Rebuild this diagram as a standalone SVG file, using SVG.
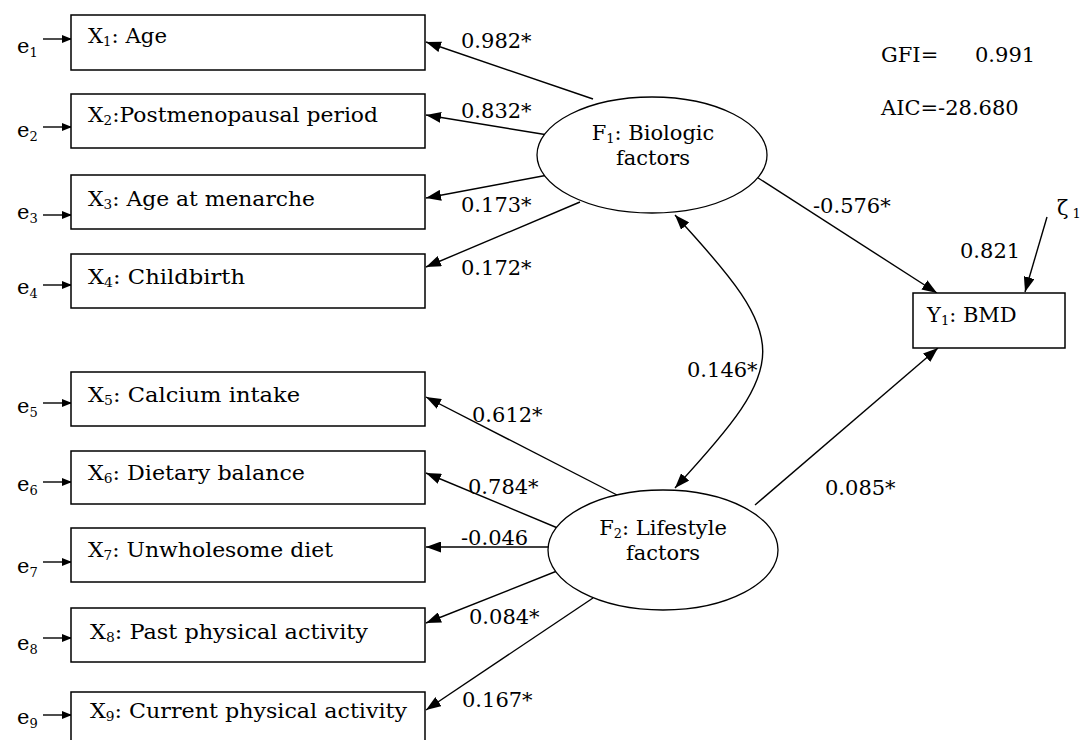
<svg xmlns="http://www.w3.org/2000/svg" width="1082" height="740" viewBox="0 0 1082 740">
<defs>
<style>
.t{font-family:"DejaVu Serif","Liberation Serif",serif;font-size:21px;fill:#000}
.s{font-size:13px}
.box{fill:#fff;stroke:#000;stroke-width:1.5}
.ell{fill:#fff;stroke:#000;stroke-width:1.3}
.ln{fill:none;stroke:#000;stroke-width:1.4}
.big{marker-end:url(#ah)}
.sm{marker-end:url(#ahs)}
</style>
<marker id="ah" viewBox="0 0 15 11" refX="15" refY="5.5" markerWidth="15" markerHeight="11" markerUnits="userSpaceOnUse" orient="auto-start-reverse"><path d="M0,0 L15,5.5 L0,11 z" fill="#000"/></marker>
<marker id="ahs" viewBox="0 0 10 8" refX="10" refY="4" markerWidth="10" markerHeight="8" markerUnits="userSpaceOnUse" orient="auto"><path d="M0,0 L10,4 L0,8 z" fill="#000"/></marker>
</defs>
<rect width="1082" height="740" fill="#fff"/>

<g id="connectors">
<path class="ln big" d="M593,99 L426,42"/>
<path class="ln big" d="M548,135 L426,115"/>
<path class="ln big" d="M548,175 L426,198"/>
<path class="ln big" d="M580,202 L426,267"/>
<path class="ln big" d="M752,174 L937,293"/>
<path class="ln big" d="M755,505 L938,348"/>
<path class="ln big" d="M617,495 L426,397"/>
<path class="ln big" d="M560,529 L426,473"/>
<path class="ln big" d="M549,547 L426,547"/>
<path class="ln big" d="M562,569 L426,623"/>
<path class="ln big" d="M593,598 L426,710"/>
<path class="ln big" d="M1047,217 L1025,292"/>
<path class="ln big" style="marker-start:url(#ah)" d="M675,215 C792,342 792,361 675,488"/>
<path class="ln sm" d="M43,39 L72,39"/>
<path class="ln sm" d="M43,127 L72,127"/>
<path class="ln sm" d="M43,215 L72,215"/>
<path class="ln sm" d="M43,285 L72,285"/>
<path class="ln sm" d="M43,403 L72,403"/>
<path class="ln sm" d="M43,482 L72,482"/>
<path class="ln sm" d="M43,562 L72,562"/>
<path class="ln sm" d="M43,638 L72,638"/>
<path class="ln sm" d="M43,715 L72,715"/>
</g>

<g id="x1"><rect class="box" x="71" y="15" width="354" height="55"/><text class="t" x="88" y="43" textLength="79" lengthAdjust="spacingAndGlyphs">X<tspan class="s" dy="3">1</tspan><tspan dy="-3">: Age</tspan></text></g>
<g id="x2"><rect class="box" x="71" y="94" width="354" height="54"/><text class="t" x="88" y="122" textLength="290" lengthAdjust="spacingAndGlyphs">X<tspan class="s" dy="3">2</tspan><tspan dy="-3">:Postmenopausal period</tspan></text></g>
<g id="x3"><rect class="box" x="71" y="175" width="354" height="54"/><text class="t" x="88" y="206" textLength="227" lengthAdjust="spacingAndGlyphs">X<tspan class="s" dy="3">3</tspan><tspan dy="-3">: Age at menarche</tspan></text></g>
<g id="x4"><rect class="box" x="71" y="254" width="354" height="54"/><text class="t" x="88" y="284" textLength="157" lengthAdjust="spacingAndGlyphs">X<tspan class="s" dy="3">4</tspan><tspan dy="-3">: Childbirth</tspan></text></g>
<g id="x5"><rect class="box" x="71" y="372" width="354" height="54"/><text class="t" x="88" y="402" textLength="212" lengthAdjust="spacingAndGlyphs">X<tspan class="s" dy="3">5</tspan><tspan dy="-3">: Calcium intake</tspan></text></g>
<g id="x6"><rect class="box" x="71" y="451" width="354" height="53"/><text class="t" x="88" y="480" textLength="217" lengthAdjust="spacingAndGlyphs">X<tspan class="s" dy="3">6</tspan><tspan dy="-3">: Dietary balance</tspan></text></g>
<g id="x7"><rect class="box" x="71" y="528" width="354" height="54"/><text class="t" x="88" y="557" textLength="245" lengthAdjust="spacingAndGlyphs">X<tspan class="s" dy="3">7</tspan><tspan dy="-3">: Unwholesome diet</tspan></text></g>
<g id="x8"><rect class="box" x="71" y="608" width="354" height="54"/><text class="t" x="90" y="639" textLength="278" lengthAdjust="spacingAndGlyphs">X<tspan class="s" dy="3">8</tspan><tspan dy="-3">: Past physical activity</tspan></text></g>
<g id="x9"><rect class="box" x="71" y="692" width="354" height="56"/><text class="t" x="90" y="718" textLength="317" lengthAdjust="spacingAndGlyphs">X<tspan class="s" dy="3">9</tspan><tspan dy="-3">: Current physical activity</tspan></text></g>

<g id="e-labels">
<text class="t" x="17" y="53">e<tspan class="s" dy="4">1</tspan></text>
<text class="t" x="17" y="137">e<tspan class="s" dy="4">2</tspan></text>
<text class="t" x="17" y="219">e<tspan class="s" dy="4">3</tspan></text>
<text class="t" x="17" y="294">e<tspan class="s" dy="4">4</tspan></text>
<text class="t" x="17" y="413">e<tspan class="s" dy="4">5</tspan></text>
<text class="t" x="17" y="491">e<tspan class="s" dy="4">6</tspan></text>
<text class="t" x="17" y="573">e<tspan class="s" dy="4">7</tspan></text>
<text class="t" x="17" y="650">e<tspan class="s" dy="4">8</tspan></text>
<text class="t" x="17" y="724">e<tspan class="s" dy="4">9</tspan></text>
</g>

<g id="f1"><ellipse class="ell" cx="652" cy="155" rx="115" ry="58"/><text class="t" x="653" y="140" text-anchor="middle">F<tspan class="s" dy="3">1</tspan><tspan dy="-3">: Biologic</tspan></text><text class="t" x="653" y="165" text-anchor="middle">factors</text></g>
<g id="f2"><ellipse class="ell" cx="663" cy="550" rx="115" ry="60"/><text class="t" x="663" y="535" text-anchor="middle">F<tspan class="s" dy="3">2</tspan><tspan dy="-3">: Lifestyle</tspan></text><text class="t" x="663" y="560" text-anchor="middle">factors</text></g>
<g id="y1"><rect class="box" x="913" y="293" width="152" height="55"/><text class="t" x="927" y="322">Y<tspan class="s" dy="3">1</tspan><tspan dy="-3">: BMD</tspan></text></g>

<g id="labels">
<text class="t" x="461" y="48">0.982*</text>
<text class="t" x="461" y="118">0.832*</text>
<text class="t" x="461" y="212">0.173*</text>
<text class="t" x="461" y="275">0.172*</text>
<text class="t" x="472" y="422">0.612*</text>
<text class="t" x="468" y="494">0.784*</text>
<text class="t" x="461" y="545">-0.046</text>
<text class="t" x="469" y="624">0.084*</text>
<text class="t" x="462" y="707">0.167*</text>
<text class="t" x="687" y="377">0.146*</text>
<text class="t" x="813" y="213">-0.576*</text>
<text class="t" x="825" y="495">0.085*</text>
<text class="t" x="960" y="258">0.821</text>
<text class="t" x="1057" y="215">ζ<tspan class="s" dx="4" dy="3">1</tspan></text>
<text class="t" x="881" y="62">GFI=</text>
<text class="t" x="975" y="62">0.991</text>
<text class="t" x="881" y="115">AIC=-28.680</text>
</g>
</svg>
